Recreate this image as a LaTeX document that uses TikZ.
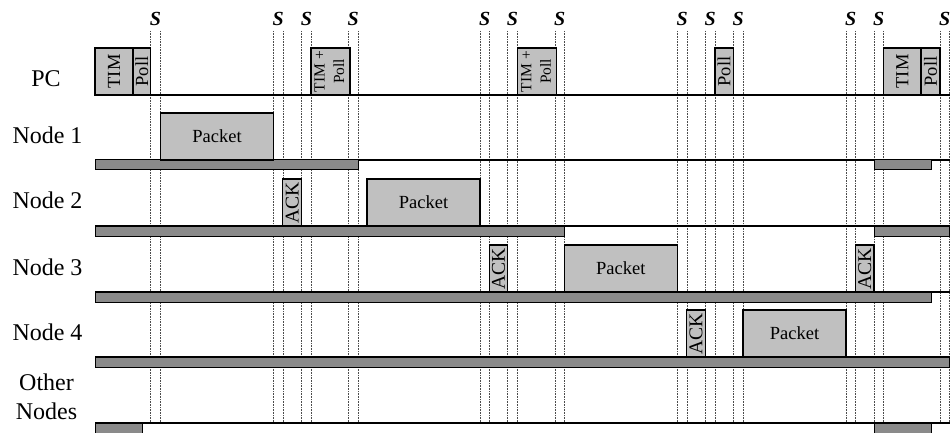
\documentclass[tikz,border=0pt]{standalone}
\usepackage{fontspec}
\setmainfont{Liberation Serif}
\usetikzlibrary{positioning}

\definecolor{boxgray}{RGB}{192,192,192}
\definecolor{bargray}{RGB}{138,138,138}

\tikzset{
  rowlabel/.style={font=\fontsize{24}{29}\selectfont, align=center, anchor=base, inner sep=0pt},
  slotlabel/.style={font=\fontsize{20}{20}\selectfont\bfseries\itshape, inner sep=0pt},
  slotline/.style={densely dotted, line width=0.6pt, black!70},
  rowline/.style={line width=1.3pt},
  busybar/.style={draw, line width=1pt, fill=bargray},
  frame/.style={draw, line width=1.2pt, fill=boxgray, inner sep=0pt, outer sep=0pt,
    anchor=south west, minimum height=47pt},
  pcframe/.style={frame, font=\fontsize{18.5}{18}\selectfont},
  tpframe/.style={frame, font=\fontsize{15.5}{19.5}\selectfont},
  ackframe/.style={frame, font=\fontsize{19.5}{20}\selectfont},
  pktframe/.style={frame, font=\fontsize{18.5}{20}\selectfont}
}

\begin{document}
\begin{tikzpicture}[x=1pt,y=-1pt]
\useasboundingbox (0,0) rectangle (951,433);

% slots
\foreach \x [count=\i] in {150.7,273.3,301.7,348.3,480,507.7,555,677.3,705.3,733.3,846,874,940}{
  \draw[slotline] (\x,31) -- (\x,423);
  \draw[slotline] (\x+9.6,31) -- (\x+9.6,423);
  \node[slotlabel] (s\i) at (\x+4.8,19.2) {S};
}

% rows
\foreach \y in {95,160,226,292,357,423}
  \draw[rowline] (95,\y) -- (950,\y);

% busy periods
\draw[busybar] (95,160) rectangle (358.3,170);
\draw[busybar] (874,160) rectangle (931,170);
\draw[busybar] (95,226) rectangle (564.3,236);
\draw[busybar] (874,226) rectangle (949.5,236);
\draw[busybar] (95,292) rectangle (931,302);
\draw[busybar] (95,357) rectangle (949.5,367);
\draw[busybar] (95,423) rectangle (142.3,433);
\draw[busybar] (874,423) rectangle (931,433);

% PC
\node[pcframe, minimum width=38pt] (tim1) at (95,95) {\rotatebox{90}{TIM}};
\node[pcframe, minimum width=17.7pt, right=0pt of tim1] (poll1) {\rotatebox{90}{Poll}};
\node[tpframe, minimum width=37.3pt] (tp1) at (311,95)
  {\rotatebox{90}{\begin{tabular}{@{}c@{}}TIM +\\Poll\end{tabular}}};
\node[tpframe, minimum width=37.3pt] (tp2) at (517.7,95)
  {\rotatebox{90}{\begin{tabular}{@{}c@{}}TIM +\\Poll\end{tabular}}};
\node[pcframe, minimum width=18.3pt] (poll2) at (715,95) {\rotatebox{90}{Poll}};
\node[pcframe, minimum width=37.3pt] (tim2) at (883.7,95) {\rotatebox{90}{TIM}};
\node[pcframe, minimum width=19pt, right=0pt of tim2] (poll3) {\rotatebox{90}{Poll}};

% node 1
\node[pktframe, minimum width=112.6pt] (pkt1) at (160.7,160) {Packet};
% node 2
\node[ackframe, minimum width=19pt] (ack2) at (282.7,226) {\rotatebox{90}{ACK}};
\node[pktframe, minimum width=113pt] (pkt2) at (367,226) {Packet};
% node 3
\node[ackframe, minimum width=18.4pt] (ack3a) at (489.3,292) {\rotatebox{90}{ACK}};
\node[pktframe, minimum width=113pt] (pkt3) at (564.3,292) {Packet};
\node[ackframe, minimum width=18.3pt] (ack3b) at (855.7,292) {\rotatebox{90}{ACK}};
% node 4
\node[ackframe, minimum width=18.6pt] (ack4) at (686.7,357) {\rotatebox{90}{ACK}};
\node[pktframe, minimum width=103pt] (pkt4) at (743,357) {Packet};

% labels
\node[rowlabel] (pc) at (46,86.7) {PC};
\node[rowlabel] (n1) at (47.5,144) {Node 1};
\node[rowlabel] (n2) at (47.5,208.3) {Node 2};
\node[rowlabel] (n3) at (47.5,275) {Node 3};
\node[rowlabel] (n4) at (47.5,340) {Node 4};
\node[rowlabel, anchor=center] (other) at (46.5,396.5) {Other\\Nodes};
\end{tikzpicture}
\end{document}
